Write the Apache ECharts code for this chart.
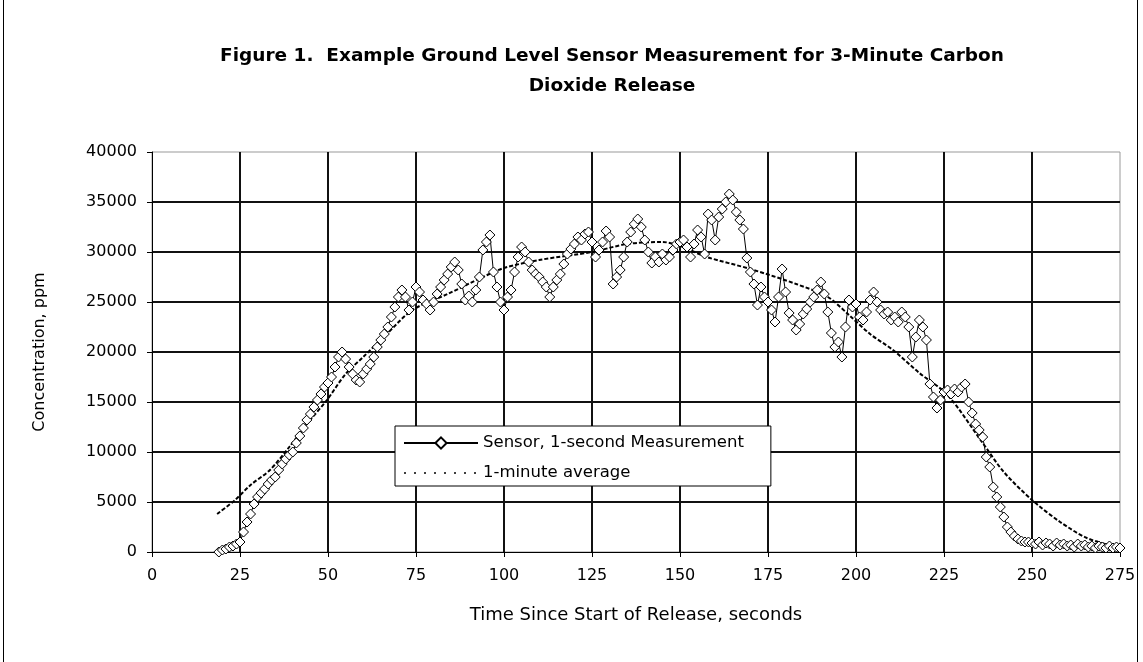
<!DOCTYPE html>
<html>
<head>
<meta charset="utf-8">
<script src="https://cdn.jsdelivr.net/npm/echarts@6/dist/echarts.min.js"></script>
<style>
html,body{margin:0;padding:0;background:#fff;}
#c{width:1143px;height:662px;}
</style>
</head>
<body>
<div id="c"></div>
<script>
// Sensor, 1-second measurement: time (s) and concentration (ppm)
const sensorStart = 19;
const sensorValues = [
  0, 200, 300, 500, 600, 800, 1000, 2000, 3000, 3800,      // 19-28
  4800, 5500, 5900, 6300, 6800, 7200, 7500, 8200, 8800, 9300, // 29-38
  9700, 10000, 10900, 11600, 12400, 13200, 13800, 14500, 15200, 15800, // 39-48
  16500, 16900, 17500, 18500, 19500, 20000, 19300, 18500, 17800, 17200, // 49-58
  17000, 17800, 18300, 18800, 19500, 20500, 21200, 21800, 22500, 23500, // 59-68
  24500, 25500, 26200, 25500, 24200, 25000, 26500, 26000, 25200, 24800, // 69-78
  24200, 25000, 25800, 26500, 27200, 27800, 28500, 29000, 28200, 26800, // 79-88
  25200, 25600, 25000, 26200, 27500, 30200, 31000, 31700, 28000, 26500, // 89-98
  25000, 24200, 25500, 26200, 28000, 29500, 30500, 30000, 29000, 28200, // 99-108
  27800, 27500, 27000, 26500, 25500, 26500, 27200, 27800, 28800, 29800, // 109-118
  30300, 30800, 31500, 31200, 31800, 32000, 31000, 29500, 30200, 31000, // 119-128
  32100, 31500, 26800, 27500, 28200, 29500, 31000, 32000, 32800, 33300, // 129-138
  32500, 31200, 30000, 28900, 29500, 29000, 29800, 29200, 29500, 30200, // 139-148
  30800, 31000, 31200, 30500, 29500, 30800, 32200, 31500, 29800, 33800, // 149-158
  33200, 31200, 33500, 34300, 35000, 35800, 35200, 34000, 33200, 32300, // 159-168
  29400, 28000, 26800, 24700, 26500, 25500, 25000, 24200, 23000, 25500, // 169-178
  28300, 26000, 23900, 23200, 22200, 22800, 23800, 24300, 25000, 25500, // 179-188
  26200, 27000, 25800, 24000, 21900, 20500, 21000, 19500, 22500, 25200, // 189-198
  24500, 24800, 23500, 23200, 24000, 25200, 26000, 25000, 24200, 23800, // 199-208
  24000, 23200, 23500, 23000, 24000, 23500, 22500, 19500, 21500, 23200, // 209-218
  22500, 21200, 16800, 15500, 14400, 15200, 16000, 16200, 15800, 16300, // 219-228
  16000, 16500, 16800, 15000, 13900, 12800, 12200, 11500, 9500, 8500,   // 229-238
  6500, 5500, 4500, 3500, 2500, 2000, 1600, 1300, 1100, 1000,           // 239-248
  1000, 900, 800, 1000, 700, 900, 800, 600, 900, 700,                   // 249-258
  800, 600, 700, 500, 800, 600, 700, 500, 600, 400,                     // 259-268
  600, 500, 400, 600, 400, 500, 400                                     // 269-275
];
// 1-minute average: time (s) and concentration (ppm)
const avgTimes  = [18.5, 23.6, 28, 33.5, 39, 44, 49.7, 55, 60, 66.7, 74, 84, 94, 100, 110, 125, 135, 145, 150, 157.6, 170, 183, 192, 198, 204, 210.5, 218, 226, 236, 242, 250, 258, 265.6, 275];
const avgValues = [3800, 5200, 6700, 8200, 10500, 12800, 15200, 17800, 19500, 21800, 24200, 25800, 27500, 28400, 29200, 30000, 30800, 31000, 30600, 29500, 28300, 26800, 25500, 23700, 21800, 20200, 17900, 15700, 10900, 8000, 5200, 3000, 1400, 400];

const titleLines = ['Figure 1.  Example Ground Level Sensor Measurement for 3-Minute Carbon', 'Dioxide Release'];
const xAxisTitle = 'Time Since Start of Release, seconds';
const yAxisTitle = 'Concentration, ppm';
const seriesNames = ['Sensor, 1-second Measurement', '1-minute average'];

const sensorData = sensorValues.map((v, i) => [sensorStart + i, v]);
const avgData = avgTimes.map((t, i) => [t, avgValues[i]]);

const FONT = 'DejaVu Sans';
const chart = echarts.init(document.getElementById('c'), null, {renderer: 'canvas'});
chart.setOption({
  animation: false,
  backgroundColor: '#fff',
  textStyle: {fontFamily: FONT, color: '#000'},
  title: {
    text: titleLines.join('\n'),
    left: 607, top: 36, textAlign: 'center',
    textStyle: {fontFamily: FONT, fontWeight: 'bold', fontSize: 18.5, lineHeight: 30, color: '#000'}
  },
  graphic: [
    {type: 'line', shape: {x1: 3.5, y1: 0, x2: 3.5, y2: 662}, style: {stroke: '#000', lineWidth: 1}, silent: true},
    {type: 'line', shape: {x1: 1137.5, y1: 0, x2: 1137.5, y2: 662}, style: {stroke: '#000', lineWidth: 1}, silent: true}
  ],
  legend: {
    orient: 'vertical', left: 395, top: 426,
    backgroundColor: '#fff', borderColor: '#000', borderWidth: 1,
    padding: [7, 27, 3, 8], itemGap: 10, itemWidth: 74, itemHeight: 14,
    textStyle: {fontFamily: FONT, fontSize: 16.5, lineHeight: 20, color: '#000'},
    data: [
      {name: seriesNames[0]},
      {name: seriesNames[1], itemStyle: {opacity: 0}, lineStyle: {type: [2, 8], width: 1.5}}
    ]
  },
  grid: {left: 152, right: 23, top: 152, bottom: 110, show: true, borderColor: '#999', borderWidth: 1, backgroundColor: 'transparent'},
  xAxis: {
    type: 'value', min: 0, max: 275, interval: 25,
    name: xAxisTitle, nameLocation: 'middle', nameGap: 54,
    nameTextStyle: {fontFamily: FONT, fontSize: 18, color: '#000'},
    axisLine: {show: true, onZero: false, lineStyle: {color: '#000', width: 1}},
    axisTick: {show: true, length: 5, lineStyle: {color: '#000'}},
    axisLabel: {margin: 16, fontFamily: FONT, fontSize: 16, color: '#000'},
    splitLine: {show: true, showMinLine: false, showMaxLine: false, lineStyle: {color: '#111', width: 2}}
  },
  yAxis: {
    type: 'value', min: 0, max: 40000, interval: 5000,
    name: yAxisTitle, nameLocation: 'middle', nameGap: 104, nameRotate: 90,
    nameTextStyle: {fontFamily: FONT, fontSize: 16, color: '#000'},
    axisLine: {show: true, onZero: false, lineStyle: {color: '#000', width: 1}},
    axisTick: {show: true, length: 5, lineStyle: {color: '#000'}},
    axisLabel: {margin: 15, fontFamily: FONT, fontSize: 16, color: '#000', formatter: v => String(v)},
    splitLine: {show: true, showMinLine: false, showMaxLine: false, lineStyle: {color: '#111', width: 2}}
  },
  series: [
    {
      name: seriesNames[0], type: 'line', data: sensorData,
      symbol: 'diamond', symbolSize: 10, showAllSymbol: true, clip: false,
      lineStyle: {color: '#000', width: 1},
      itemStyle: {color: '#fff', borderColor: '#000', borderWidth: 1},
      z: 3
    },
    {
      name: seriesNames[1], type: 'line', data: avgData, smooth: 0.3,
      showSymbol: false, symbol: 'none',
      lineStyle: {color: '#000', width: 2, type: [4, 2]},
      itemStyle: {color: '#000'},
      z: 2
    }
  ]
});
</script>
</body>
</html>
